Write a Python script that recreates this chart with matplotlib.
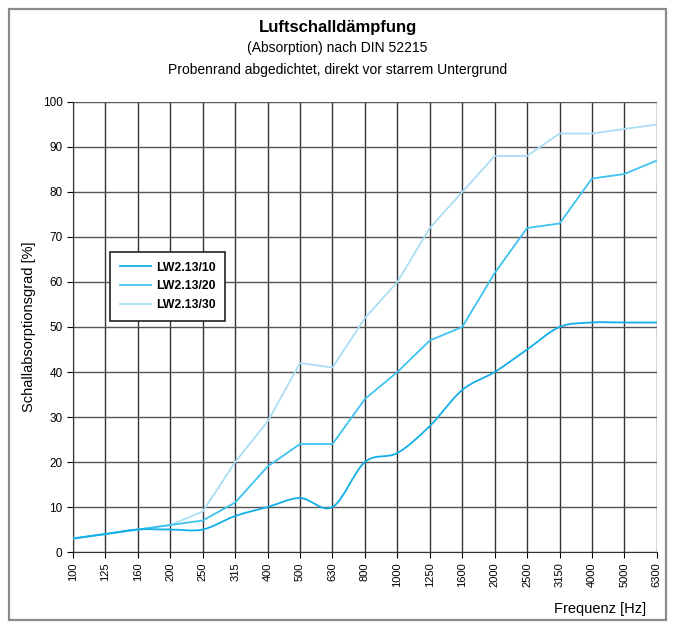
import matplotlib.pyplot as plt
import matplotlib.patches as mpatches
from matplotlib.path import Path
import numpy as np

plt.rcParams['font.family'] = ['Liberation Sans', 'DejaVu Sans']

# Daten
freqs = ["100", "125", "160", "200", "250", "315", "400", "500", "630", "800",
         "1000", "1250", "1600", "2000", "2500", "3150", "4000", "5000", "6300"]
lw_10 = [3, 4, 5, 5, 5, 8, 10, 12, 10, 20, 22, 28, 36, 40, 45, 50, 51, 51, 51]
lw_20 = [3, 4, 5, 6, 7, 11, 19, 24, 24, 34, 40, 47, 50, 62, 72, 73, 83, 84, 87]
lw_30 = [3, 4, 5, 6, 9, 20, 29, 42, 41, 52, 60, 72, 80, 88, 88, 93, 93, 94, 95]
labels = ["LW2.13/10", "LW2.13/20", "LW2.13/30"]
colors = ["#12aee8", "#3ec3f0", "#a9def5"]


def smooth_path(xs, ys):
    # Catmull-Rom als Bezier-Kurve (nur Darstellung)
    pts = np.column_stack([xs, ys]).astype(float)
    verts = [pts[0]]
    codes = [Path.MOVETO]
    n = len(pts)
    for i in range(n - 1):
        p0 = pts[i - 1] if i > 0 else pts[i]
        p1 = pts[i]
        p2 = pts[i + 1]
        p3 = pts[i + 2] if i + 2 < n else pts[i + 1]
        c1 = p1 + (p2 - p0) / 6.0
        c2 = p2 - (p3 - p1) / 6.0
        verts += [c1, c2, p2]
        codes += [Path.CURVE4] * 3
    return Path(verts, codes)


fig = plt.figure(figsize=(6.73, 6.28), dpi=100)
ax = fig.add_axes([0.1085, 0.121, 0.8675, 0.7166])

x = np.arange(len(freqs))

# Gitter
for xi in x:
    ax.axvline(xi, color='#333333', linewidth=1.0, zorder=1)
for yi in range(0, 101, 10):
    ax.axhline(yi, color='#555555', linewidth=1.0, zorder=1)

# Kurven
p = smooth_path(x, lw_10)
ax.add_patch(mpatches.PathPatch(p, facecolor='none', edgecolor=colors[0], linewidth=1.3, zorder=5))
ax.plot([], [], color=colors[0], linewidth=1.3, label=labels[0])
ax.plot(x, lw_20, color=colors[1], linewidth=1.3, label=labels[1], zorder=4)
ax.plot(x, lw_30, color=colors[2], linewidth=1.3, label=labels[2], zorder=3)

ax.set_xlim(0, len(freqs) - 1)
ax.set_ylim(0, 100)
ax.set_xticks(x)
ax.set_xticklabels(freqs, rotation=90, fontsize=8)
ax.set_yticks(range(0, 101, 10))
ax.tick_params(axis='y', labelsize=8.5, length=4, direction='out')
ax.tick_params(axis='x', length=4, direction='out')
for s in ['top', 'right']:
    ax.spines[s].set_visible(False)
for s in ['left', 'bottom']:
    ax.spines[s].set_color('#333333')

ax.set_ylabel('Schallabsorptionsgrad [%]', fontsize=10.5, labelpad=5)

leg = ax.legend(loc='upper left', bbox_to_anchor=(0.063, 0.667),
                prop={'weight': 'bold', 'size': 8.8}, frameon=True, fancybox=False,
                handlelength=2.6, handletextpad=0.35, labelspacing=0.55,
                borderpad=0.8, borderaxespad=0)
leg.get_frame().set_edgecolor('#222222')
leg.get_frame().set_linewidth(1.2)
leg.get_frame().set_alpha(1)
leg.set_zorder(10)

# Titel
fig.text(0.5015, 0.957, 'Luftschalldämpfung', ha='center', va='center',
         fontsize=12, fontweight='bold')
fig.text(0.5015, 0.923, '(Absorption) nach DIN 52215', ha='center', va='center', fontsize=10)
fig.text(0.5015, 0.888, 'Probenrand abgedichtet, direkt vor starrem Untergrund',
         ha='center', va='center', fontsize=10)
fig.text(0.96, 0.03, 'Frequenz [Hz]', ha='right', va='center', fontsize=10.5)

# Rahmen
frame = mpatches.Rectangle((0.0134, 0.0127), 0.9762, 0.973, transform=fig.transFigure,
                           facecolor='none', edgecolor='#8a8a8a', linewidth=1.6)
fig.patches.append(frame)

plt.savefig('out.png', dpi=100)
